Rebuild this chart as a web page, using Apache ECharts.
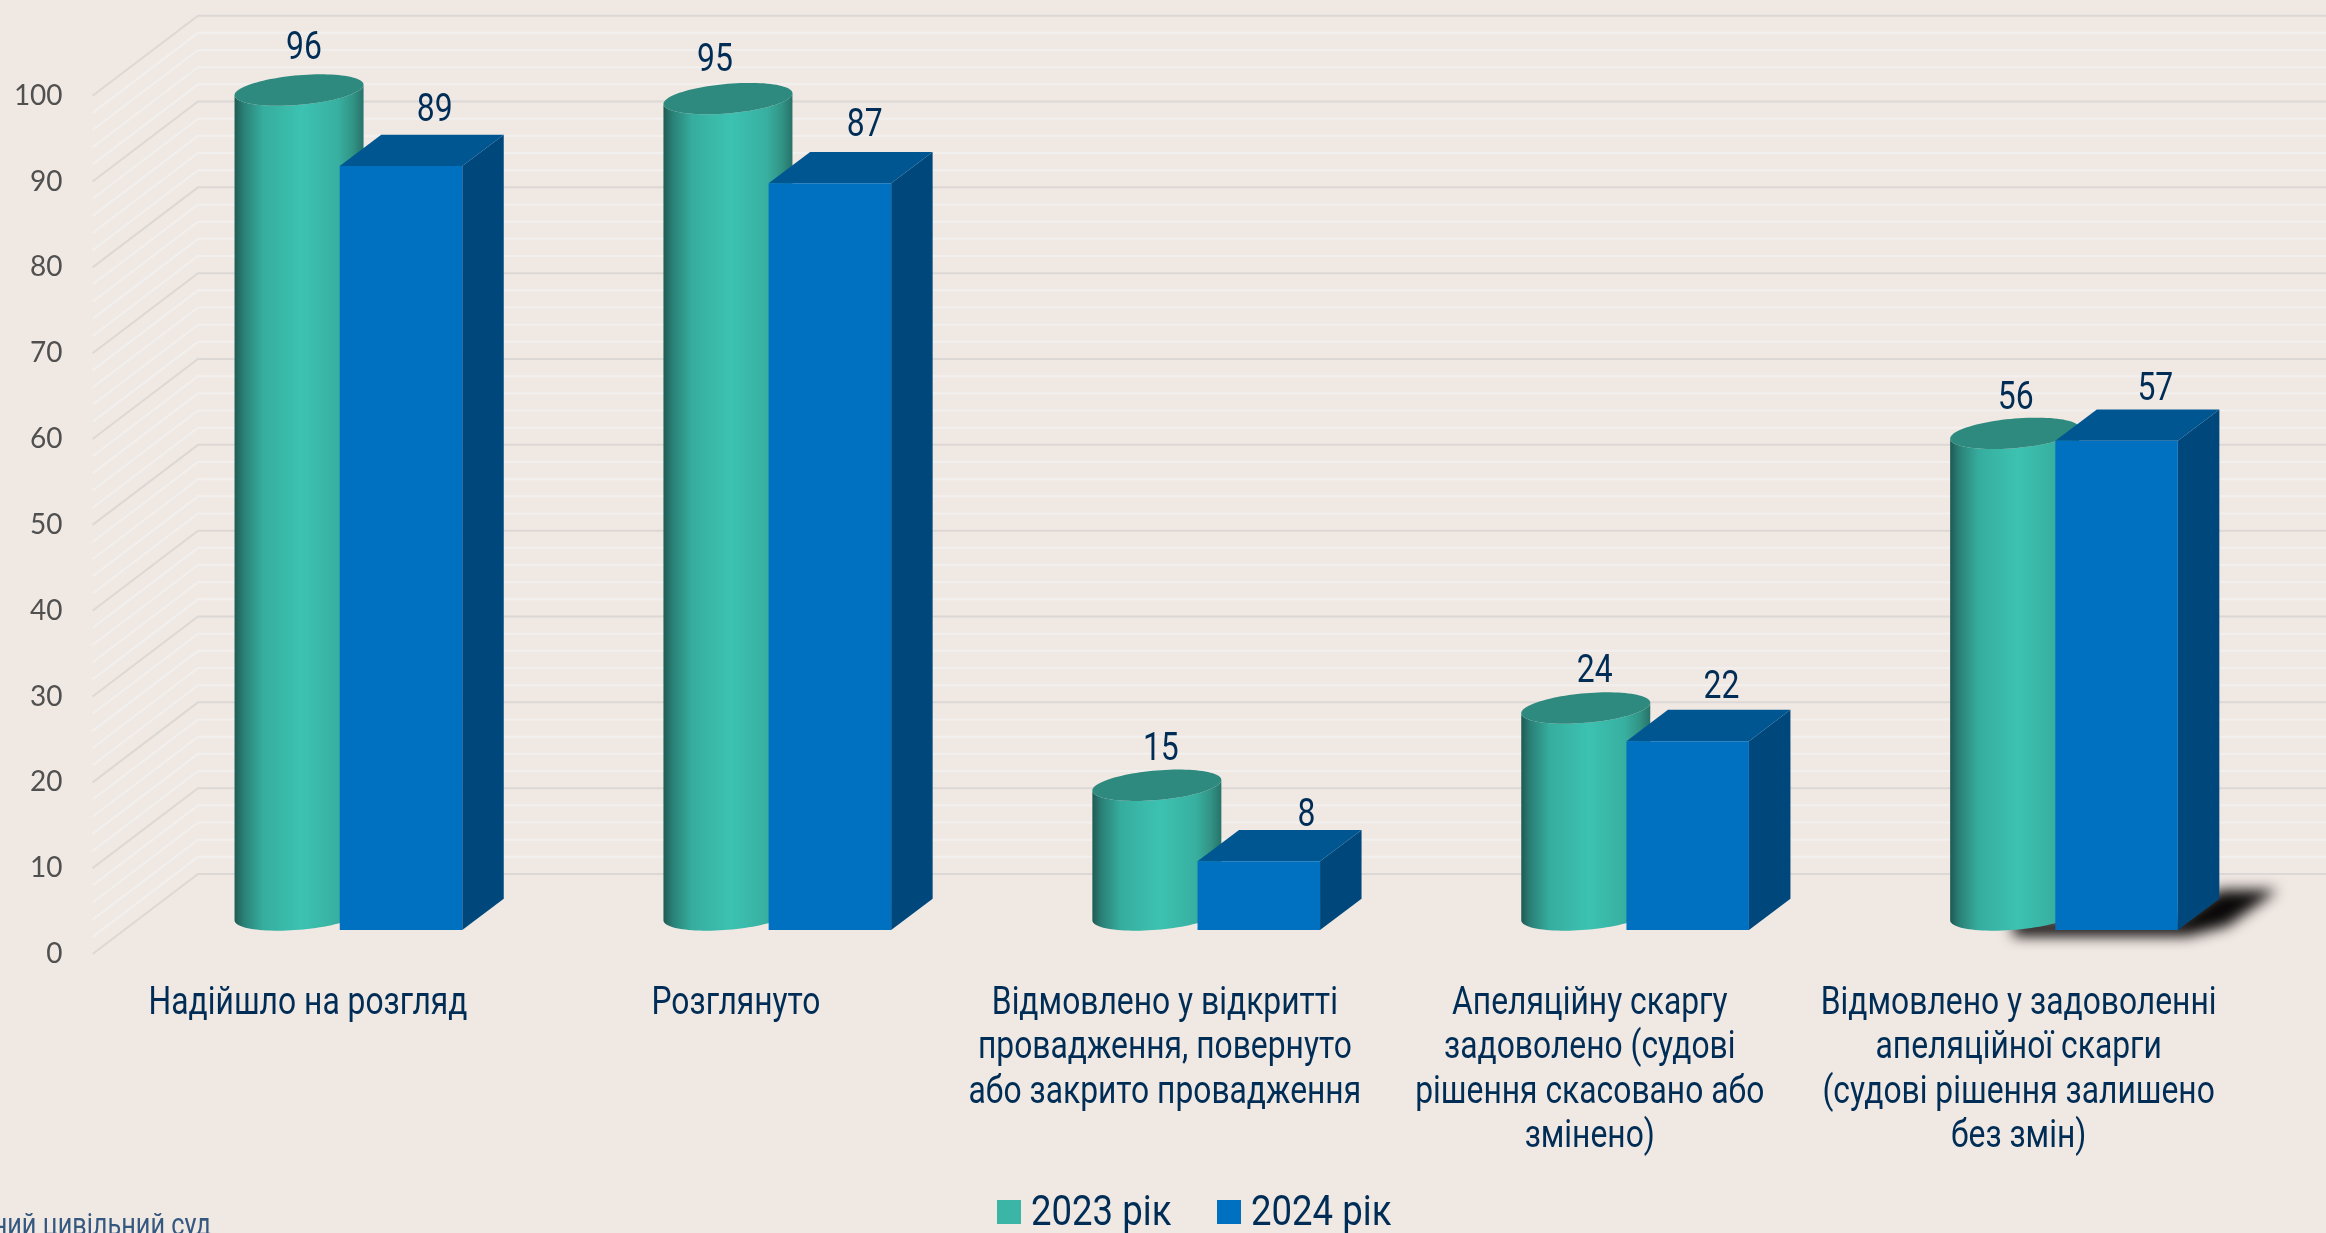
<!DOCTYPE html>
<html>
<head>
<meta charset="utf-8">
<title>chart</title>
<style>
  html, body { margin: 0; padding: 0; background: #f0e8e3; }
  #chart { width: 2326px; height: 1233px; }
</style>
<script src="https://cdn.jsdelivr.net/npm/echarts@6/dist/echarts.min.js"></script>
</head>
<body>
<div id="chart"></div>
<script>
const categories = [
  'Надійшло на розгляд',
  'Розглянуто',
  'Відмовлено у відкритті\nпровадження, повернуто\nабо закрито провадження',
  'Апеляційну скаргу\nзадоволено (судові\nрішення скасовано або\nзмінено)',
  'Відмовлено у задоволенні\nапеляційної скарги\n(судові рішення залишено\nбез змін)'
]
const values2023 = [96, 95, 15, 24, 56]
const values2024 = [89, 87, 8, 22, 57]
const wallTicks = [0, 2, 4, 6, 8, 10, 12, 14, 16, 18, 20, 22, 24, 26, 28, 30, 32, 34, 36, 38, 40, 42, 44, 46, 48, 50, 52, 54, 56, 58, 60, 62, 64, 66, 68, 70, 72, 74, 76, 78, 80, 82, 84, 86, 88, 90, 92, 94, 96, 98, 100]
const seriesNames = ['2023 рік', '2024 рік']
const seriesColors = ['#3ab5a6', '#0070c0']

// hand placed labels, the source chart has them nudged one by one
const labelNudge2023 = [[5, -44], [-13, -41], [4, -38], [9, -39], [1, -37]]
const labelNudge2024 = [[95, -58], [96, -60], [109, -48], [95, -56], [100, -54]]
const categoryNudge = [1, 0, 0, -4, -4]

// no condensed font is installed, so Roboto gets squeezed
const FONT = 'Roboto, sans-serif'
const NAVY = '#002d56'
const NARROW = 0.837

const wallDx = 105.4
const wallDy = -80

function renderWall(params, api) {
  const v = api.value(0)
  const cs = params.coordSys
  const y = api.coord([0, v])[1]
  const major = v % 10 === 0
  return {
    type: 'polyline',
    shape: { points: [[cs.x, y], [cs.x + wallDx, y + wallDy], [cs.x + cs.width + wallDx, y + wallDy]] },
    style: { fill: 'none', stroke: major ? '#dbd8d5' : '#f1f0ee', lineWidth: 2 }
  }
}

function valueLabel(v, x, y) {
  return {
    type: 'text',
    x: x,
    y: y,
    scaleX: 0.84,
    style: { text: String(v), x: 0, y: 0, align: 'center', verticalAlign: 'middle', font: '38px ' + FONT, fill: NAVY }
  }
}

function renderCylinder(params, api) {
  const i = api.value(0)
  const v = api.value(1)
  const cx = api.coord([i, v])[0] - 8
  const topY = api.coord([i, v])[1] - 40
  const botY = api.coord([i, 0])[1] - 39
  const rx = 64.5
  const ry = 14.8
  const k = 5.3

  const pt = (t, cy) => [cx + rx * Math.cos(t), cy + ry * Math.sin(t) - k * Math.cos(t)]
  const body = []
  const ellipse = []
  for (let n = 0; n <= 48; n++) body.push(pt(Math.PI * n / 48, botY))
  for (let n = 0; n <= 48; n++) body.push(pt(Math.PI - Math.PI * n / 48, topY))
  for (let n = 0; n < 96; n++) ellipse.push(pt(2 * Math.PI * n / 96, topY))

  const bodyFill = new echarts.graphic.LinearGradient(0, 0, 1, 0, [
    { offset: 0, color: '#1f5a54' },
    { offset: 0.07, color: '#2a8076' },
    { offset: 0.22, color: '#36ad9e' },
    { offset: 0.52, color: '#3cc2b1' },
    { offset: 0.8, color: '#38b0a1' },
    { offset: 0.92, color: '#319384' },
    { offset: 1, color: '#28726a' }
  ])
  const nudge = labelNudge2023[params.dataIndex]
  return {
    type: 'group',
    children: [
      { type: 'polygon', shape: { points: body }, style: { fill: bodyFill } },
      { type: 'polygon', shape: { points: ellipse }, style: { fill: '#2e8a7e' } },
      valueLabel(v, cx + nudge[0], topY + nudge[1] + 3.5)
    ]
  }
}

function renderBox(params, api) {
  const i = api.value(0)
  const v = api.value(1)
  const left = api.coord([i, v])[0] + 32.7
  const top = api.coord([i, v])[1] - 24
  const bottom = api.coord([i, 0])[1] - 24
  const w = 122.5
  const dx = 41.5
  const dy = -31.3
  const nudge = labelNudge2024[params.dataIndex]
  return {
    type: 'group',
    children: [
      { type: 'polygon', shape: { points: [[left + w, top], [left + w + dx, top + dy], [left + w + dx, bottom + dy], [left + w, bottom]] }, style: { fill: '#00487c' } },
      { type: 'polygon', shape: { points: [[left, top], [left + dx, top + dy], [left + w + dx, top + dy], [left + w, top]] }, style: { fill: '#005690' } },
      { type: 'rect', shape: { x: left, y: top, width: w, height: bottom - top }, style: { fill: '#0070c0' } },
      valueLabel(v, left + nudge[0], top + nudge[1] + 3.5)
    ]
  }
}

// only the last blue bar throws a shadow in the source
// polygon sits off canvas so only its blurred shadow lands on the chart
function renderShadow(params, api) {
  const i = api.value(0)
  const x = api.coord([i, 0])[0] + 32.7 - 3000
  const b = api.coord([i, 0])[1] - 24
  return {
    type: 'polygon',
    shape: { points: [[x - 42, b - 10], [x + 122, b - 10], [x + 164, b - 40], [x + 222, b - 40], [x + 172, b - 4], [x + 132, b + 6], [x - 42, b + 6]] },
    style: { fill: '#000', shadowBlur: 14, shadowColor: 'rgba(10,8,8,1)', shadowOffsetX: 3000 }
  }
}

function renderCategoryLabel(params, api) {
  const i = api.value(0)
  const p = api.coord([i, 0])
  return {
    type: 'text',
    x: p[0] + categoryNudge[i],
    y: p[1] + 28,
    scaleX: NARROW,
    style: {
      text: categories[i], x: 0, y: 0, align: 'center', verticalAlign: 'top',
      font: '38px ' + FONT, lineHeight: 44.5, fill: NAVY
    }
  }
}

const chart = echarts.init(document.getElementById('chart'))

chart.setOption({
  backgroundColor: '#f0e8e3',
  animation: false,
  grid: { left: 92.6, top: 95.7, width: 2144.5, height: 858.3 },
  xAxis: {
    type: 'category',
    data: categories,
    axisLine: { show: false },
    axisTick: { show: false },
    splitLine: { show: false },
    axisLabel: { show: false }
  },
  yAxis: {
    type: 'value',
    min: 0,
    max: 100,
    interval: 10,
    axisLine: { show: false },
    axisTick: { show: false },
    splitLine: { show: false },
    axisLabel: { margin: 30, fontFamily: 'Lato', fontSize: 28, color: '#505050', padding: [7, 0, 0, 0] }
  },
  graphic: [
    { type: 'rect', x: 997, y: 1200, shape: { width: 24, height: 24 }, style: { fill: seriesColors[0] } },
    { type: 'text', x: 1031, y: 1214, scaleX: 0.85, style: { text: seriesNames[0], font: '43px ' + FONT, fill: NAVY, verticalAlign: 'middle' } },
    { type: 'rect', x: 1217, y: 1200, shape: { width: 24, height: 24 }, style: { fill: seriesColors[1] } },
    { type: 'text', x: 1251, y: 1214, scaleX: 0.85, style: { text: seriesNames[1], font: '43px ' + FONT, fill: NAVY, verticalAlign: 'middle' } },
    { type: 'text', x: 211, y: 1211, scaleX: 0.79, style: { text: 'Касаційний цивільний суд', align: 'right', font: '32px ' + FONT, fill: '#34587f' } }
  ],
  series: [
    { type: 'custom', silent: true, z: 1, renderItem: renderWall, data: wallTicks.map(v => [v]), encode: { y: 0 } },
    { type: 'custom', silent: true, z: 2, renderItem: renderShadow, data: [[4, 0]], encode: { x: 0, y: 1 } },
    {
      name: seriesNames[0],
      type: 'custom',
      z: 3,
      renderItem: renderCylinder,
      itemStyle: { color: seriesColors[0] },
      data: values2023.map((v, i) => [i, v]),
      encode: { x: 0, y: 1 }
    },
    {
      name: seriesNames[1],
      type: 'custom',
      z: 4,
      renderItem: renderBox,
      itemStyle: { color: seriesColors[1] },
      data: values2024.map((v, i) => [i, v]),
      encode: { x: 0, y: 1 }
    },
    { type: 'custom', silent: true, z: 5, renderItem: renderCategoryLabel, data: categories.map((c, i) => [i, 0]), encode: { x: 0, y: 1 } }
  ]
})
</script>
</body>
</html>
